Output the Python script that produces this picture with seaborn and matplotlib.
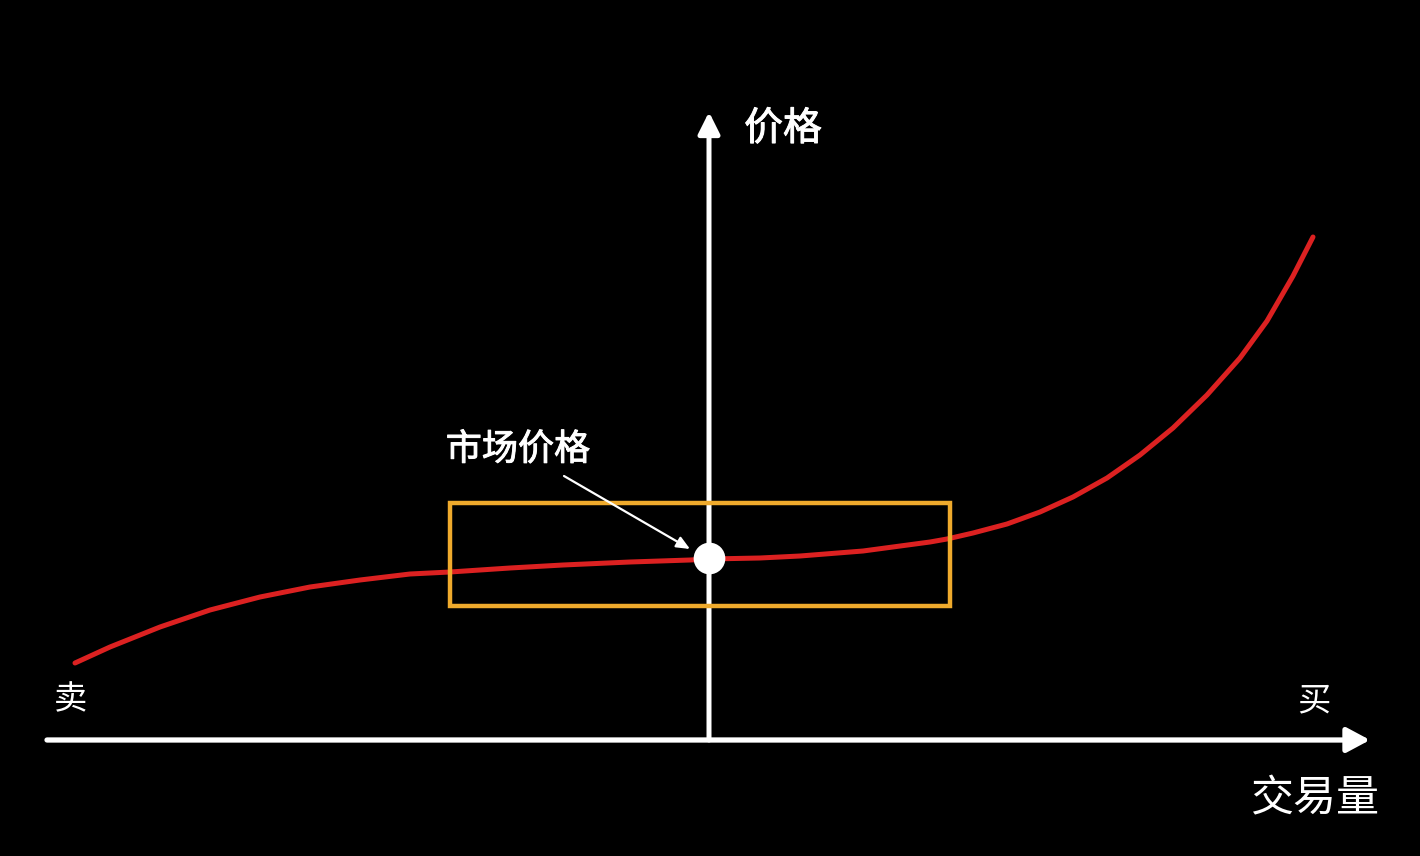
import numpy as np
import pandas as pd
import matplotlib.pyplot as plt
import matplotlib.patheffects as pe
import seaborn as sns
from matplotlib.patches import Rectangle

# curve: volume (sell < 0 < buy) vs price
volume = [-6.34, -5.99, -5.49, -4.99, -4.49, -3.99, -3.49, -2.99, -2.59,
          -1.99, -1.46, -0.79, -0.19, 0.0, 0.51, 0.91, 1.54, 2.21, 2.38,
          2.64, 2.98, 3.31, 3.64, 3.98, 4.31, 4.64, 4.98, 5.31, 5.58, 5.84,
          6.04]
price = [0.77, 0.93, 1.13, 1.30, 1.43, 1.53, 1.60, 1.66, 1.68,
         1.72, 1.75, 1.78, 1.80, 1.81, 1.82, 1.84, 1.89, 1.98, 2.01,
         2.07, 2.16, 2.28, 2.43, 2.62, 2.85, 3.12, 3.45, 3.82, 4.19, 4.64,
         5.03]

market_point = (0.0, 1.82)
box_x = (-2.59, 2.41)
box_y = (1.34, 2.37)

x_label = "交易量"
y_label = "价格"
sell_label = "卖"
buy_label = "买"
market_label = "市场价格"

df = pd.DataFrame({"volume": volume, "price": price})

sns.set_style("dark", {"axes.facecolor": "black", "figure.facecolor": "black"})
plt.rcParams["font.family"] = ["Noto Sans CJK SC", "DejaVu Sans"]

fig = plt.figure(figsize=(14.2, 8.56), dpi=100)
fig.patch.set_facecolor("black")
ax = fig.add_axes([0, 0, 1, 1])
ax.set_facecolor("black")
ax.set_xlim(-7.09, 7.11)
ax.set_ylim(-1.16, 7.40)
ax.axis("off")

# axes with arrows
ax.annotate("", xy=(6.61, 0.0), xytext=(-6.62, 0.0),
            arrowprops=dict(arrowstyle="-|>,head_length=1.4,head_width=0.75",
                            color="white", lw=3.8, shrinkA=0, shrinkB=0))
ax.annotate("", xy=(0.0, 6.28), xytext=(0.0, 0.0),
            arrowprops=dict(arrowstyle="-|>,head_length=1.3,head_width=0.65",
                            color="white", lw=3.6, shrinkA=0, shrinkB=0))

sns.lineplot(data=df, x="volume", y="price", ax=ax, color="#DC2121",
             linewidth=3.6, zorder=3, solid_joinstyle="round",
             solid_capstyle="round")

ax.add_patch(Rectangle((box_x[0], box_y[0]), box_x[1] - box_x[0],
                       box_y[1] - box_y[0], fill=False,
                       edgecolor="#EFAA2C", linewidth=3.2, zorder=4))

sns.scatterplot(x=[market_point[0]], y=[market_point[1]], ax=ax, s=520,
                color="white", edgecolor="white", linewidth=0, zorder=5)

ax.annotate("", xy=(-0.19, 1.91), xytext=(-1.45, 2.64),
            arrowprops=dict(arrowstyle="-|>,head_length=0.8,head_width=0.35",
                            color="white", lw=1.6, shrinkA=0, shrinkB=0),
            zorder=6)

# slightly heavier than regular, lighter than bold
medium = [pe.withStroke(linewidth=0.7, foreground="white")]
ax.text(-1.91, 2.90, market_label, color="white", fontsize=26,
        ha="center", va="center", path_effects=medium)
ax.text(0.74, 6.11, y_label, color="white", fontsize=28,
        ha="center", va="center", path_effects=medium)
ax.text(-6.38, 0.40, sell_label, color="white", fontsize=24,
        ha="center", va="center")
ax.text(6.05, 0.39, buy_label, color="white", fontsize=24,
        ha="center", va="center")
ax.text(6.06, -0.59, x_label, color="white", fontsize=31,
        ha="center", va="center")

fig.savefig("out.png", dpi=100, facecolor="black")
